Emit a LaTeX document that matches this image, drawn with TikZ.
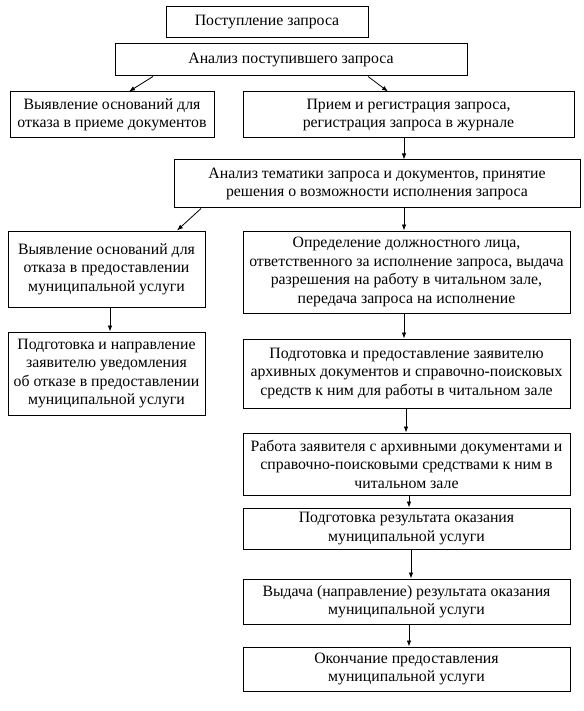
\documentclass[tikz,border=0pt]{standalone}
\usepackage{fontspec}
\setmainfont{Liberation Serif}
\usetikzlibrary{arrows.meta}

\newcommand{\unitpx}{1pt}

\begin{document}
\begin{tikzpicture}[x = \unitpx, y = -\unitpx,
  box/.style = {draw, line width = 1pt, rectangle, align = center, inner sep = 2pt,
    font = \fontsize{15.8}{18.5}\selectfont},
  arr/.style = {line width = 0.8pt, -{Latex[length = 6pt, width = 4.5pt]}}]

\useasboundingbox (0,0) rectangle (583,711);

\node [box, minimum width = 202pt, minimum height = 31pt] (s1) at (267,22.5) {Поступление запроса};
\node [box, minimum width = 352pt, minimum height = 32pt] (s2) at (291,60) {Анализ поступившего запроса};

\node [box, minimum width = 204pt, minimum height = 46pt] (s3) at (112,115) {Выявление оснований для\\отказа в приеме документов};
\node [box, minimum width = 331pt, minimum height = 46pt] (s4) at (408.5,115) {Прием и регистрация запроса,\\регистрация запроса в журнале};

\node [box, minimum width = 406pt, minimum height = 48pt] (s5) at (377,184) {Анализ тематики запроса и документов, принятие\\решения о возможности исполнения запроса};

\node [box, minimum width = 197pt, minimum height = 76pt] (s6) at (106.5,269) {Выявление оснований для\\отказа в предоставлении\\муниципальной услуги};
\node [box, minimum width = 327pt, minimum height = 82pt] (s7) at (406.5,272) {Определение должностного лица,\\ответственного за исполнение запроса, выдача\\разрешения на работу в читальном зале,\\передача запроса на исполнение};

\node [box, minimum width = 197pt, minimum height = 83pt] (s8) at (106.5,373.5) {Подготовка и направление\\заявителю уведомления\\об отказе в предоставлении\\муниципальной услуги};
\node [box, minimum width = 327pt, minimum height = 69pt] (s9) at (406.5,373.5) {Подготовка и предоставление заявителю\\архивных документов и справочно-поисковых\\средств к ним для работы в читальном зале};

\node [box, minimum width = 327pt, minimum height = 62pt] (s10) at (406.5,464) {Работа заявителя с архивными документами и\\справочно-поисковыми средствами к ним в\\читальном зале};
\node [box, minimum width = 327pt, minimum height = 41pt] (s11) at (406.5,528.5) {Подготовка результата оказания\\муниципальной услуги};
\node [box, minimum width = 327pt, minimum height = 45pt] (s12) at (406.5,601.5) {Выдача (направление) результата оказания\\муниципальной услуги};
\node [box, minimum width = 327pt, minimum height = 44pt] (s13) at (406.5,669) {Окончание предоставления\\муниципальной услуги};

\draw [arr] (s2.south -| 153,0) -- (s3.north -| 129,0);
\draw [arr] (s2.south -| 368,0) -- (s4.north -| 388,0);
\draw [arr] (s4.south -| 404,0) -- (s5.north -| 404,0);
\draw [arr] (s5.south -| 201,0) -- (s6.north -| 177,0);
\draw [arr] (s5.south -| 404,0) -- (s7.north -| 404,0);
\draw [arr] (s6.south -| 110,0) -- (s8.north -| 110,0);
\draw [arr] (s7.south -| 404,0) -- (s9.north -| 404,0);
\draw [arr] (s9.south -| 406,0) -- (s10.north -| 406,0);
\draw [arr] (s10.south -| 409,0) -- (s11.north -| 409,0);
\draw [arr] (s11.south -| 411,0) -- (s12.north -| 411,0);
\draw [arr] (s12.south -| 409,0) -- (s13.north -| 409,0);
\end{tikzpicture}
\end{document}
